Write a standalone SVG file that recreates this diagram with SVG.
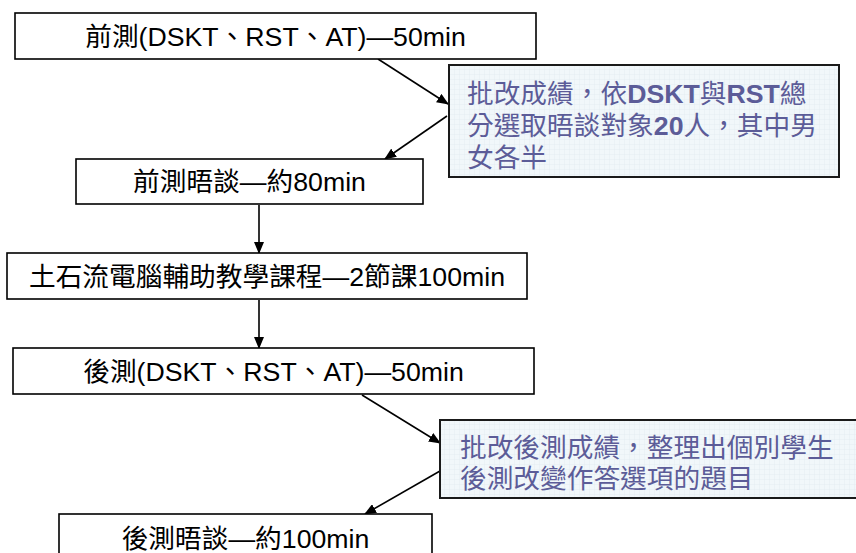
<svg xmlns="http://www.w3.org/2000/svg" width="856" height="553" viewBox="0 0 856 553">
<style>
  .box{fill:#ffffff;stroke:#000000;stroke-width:1.6}
  .call{fill:url(#grid);stroke:#1a1a1a;stroke-width:2}
  .t{font-family:"Liberation Sans","Noto Sans CJK TC",sans-serif;font-size:26.7px;fill:#000000}
  .ct{font-family:"Liberation Sans","Noto Sans CJK TC",sans-serif;font-size:26.7px;fill:#5c5c98}
  .b{font-weight:bold}
  .conn{stroke:#000000;stroke-width:1.6;fill:none;marker-end:url(#ah)}
</style>
<defs>
  <pattern id="grid" width="5" height="5" patternUnits="userSpaceOnUse">
    <rect width="5" height="5" fill="#f1f7fa"/>
    <path d="M5 0V5M0 5H5" stroke="#dde9ef" stroke-width="0.6"/>
  </pattern>
  <marker id="ah" markerWidth="12" markerHeight="10" refX="11" refY="5" orient="auto" markerUnits="userSpaceOnUse">
    <path d="M0 0L12 5L0 10Z" fill="#000000"/>
  </marker>
</defs>
<rect width="856" height="553" fill="#ffffff"/>
<g id="connectors">
  <line class="conn" x1="378" y1="59" x2="448" y2="104"/>
  <line class="conn" x1="447" y1="116" x2="385" y2="159"/>
  <line class="conn" x1="259" y1="205" x2="259" y2="253"/>
  <line class="conn" x1="259" y1="300" x2="259" y2="348"/>
  <line class="conn" x1="362" y1="395" x2="440" y2="443"/>
  <line class="conn" x1="440" y1="471" x2="365" y2="514"/>
</g>
<g id="n1">
  <rect class="box" x="15" y="13" width="521" height="46"/>
  <text class="t" x="275.5" y="46" text-anchor="middle">前測(DSKT、RST、AT)—50min</text>
</g>
<g id="c1">
  <rect class="call" x="449" y="65" width="390" height="112"/>
  <text class="ct" x="467" y="103">批改成績，依<tspan class="b">DSKT</tspan>與<tspan class="b">RST</tspan>總</text>
  <text class="ct" x="467" y="135">分選取晤談對象<tspan class="b">20</tspan>人，其中男</text>
  <text class="ct" x="467" y="167">女各半</text>
</g>
<g id="n2">
  <rect class="box" x="76" y="159" width="347" height="45"/>
  <text class="t" x="249.5" y="191" text-anchor="middle">前測晤談—約80min</text>
</g>
<g id="n3">
  <rect class="box" x="7" y="253" width="520" height="46"/>
  <text class="t" x="267" y="286" text-anchor="middle">土石流電腦輔助教學課程—2節課100min</text>
</g>
<g id="n4">
  <rect class="box" x="13" y="348" width="521" height="46"/>
  <text class="t" x="273.5" y="381" text-anchor="middle">後測(DSKT、RST、AT)—50min</text>
</g>
<g id="c2">
  <rect class="call" x="440" y="420" width="420" height="78"/>
  <text class="ct" x="460" y="457">批改後測成績，整理出個別學生</text>
  <text class="ct" x="460" y="488">後測改變作答選項的題目</text>
</g>
<g id="n5">
  <rect class="box" x="59" y="514" width="373" height="46"/>
  <text class="t" x="245.5" y="548" text-anchor="middle">後測晤談—約100min</text>
</g>
</svg>
